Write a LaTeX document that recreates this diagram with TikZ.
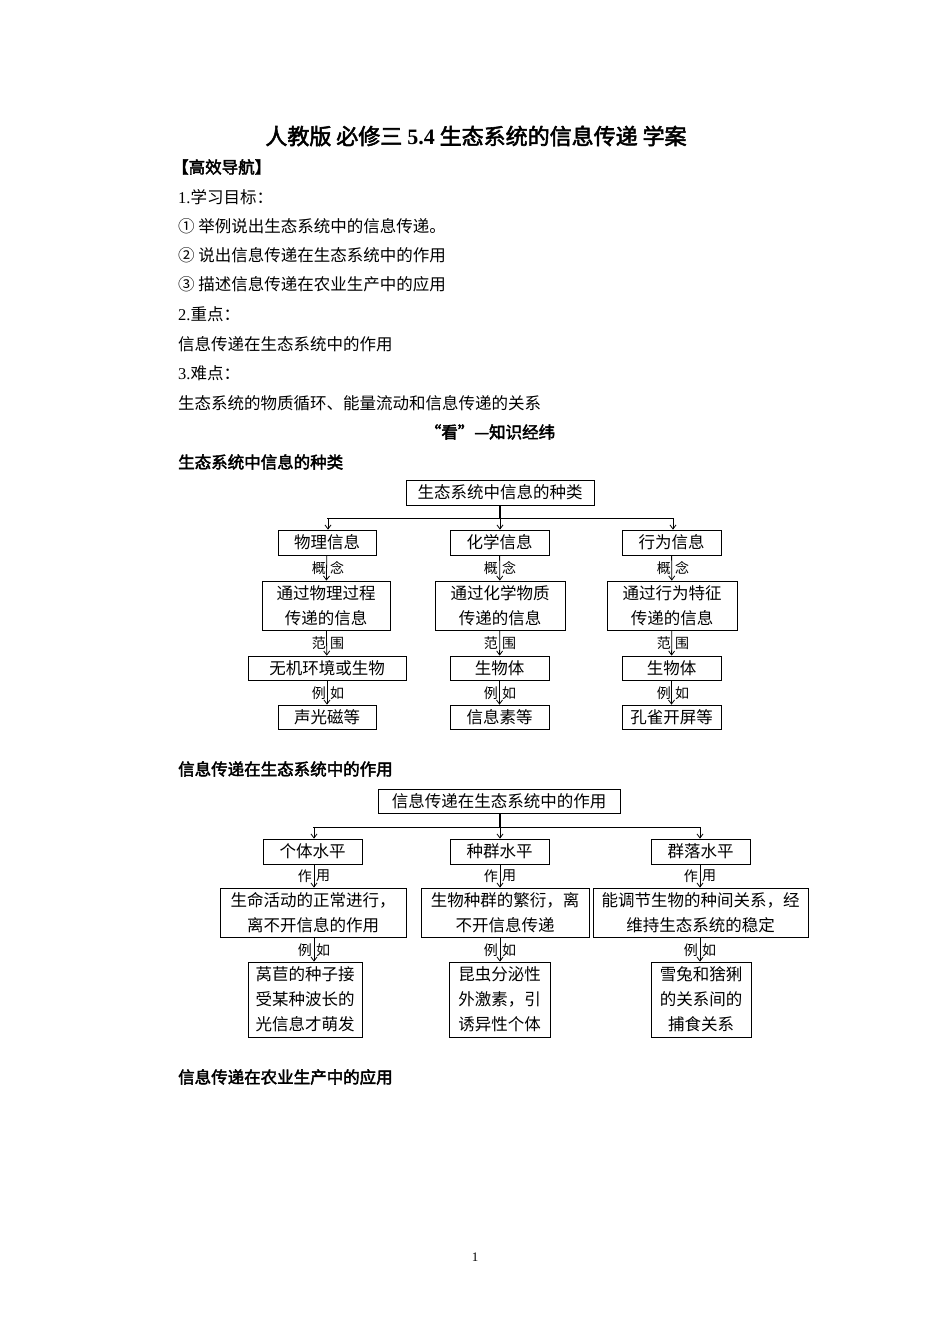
\documentclass[tikz,border=0pt]{standalone}
\usepackage{fontspec}
\setmainfont{Noto Sans CJK SC}
\newfontfamily\lat{Liberation Serif}
\newfontfamily\cjkb[FakeBold=2.5]{Noto Sans CJK SC}
\newfontfamily\latb{Liberation Serif Bold}
\usetikzlibrary{arrows.meta}
\begin{document}
\begin{tikzpicture}[x=1pt,y=-1pt,
 txt/.style={anchor=west,inner sep=0,font=\fontsize{16.5}{18}\selectfont},
 bx/.style={draw,line width=0.8pt,inner sep=0,font=\fontsize{16.5}{25}\selectfont,align=center},
 lbl/.style={inner sep=0,font=\fontsize{14}{16}\selectfont},
 arr/.style={line width=0.8pt,-{Straight Barb[length=4pt,width=6pt]}}]
\useasboundingbox (0,0) rectangle (950,1344);
\node[inner sep=0,font=\fontsize{22}{24}\selectfont] (title) at (476,136) {\cjkb 人教版 必修三 {\latb 5.4} 生态系统的信息传递 学案};
\node[txt] (h) at (172,167) {\cjkb 【高效导航】};
\node[txt] (t1) at (178,197) {{\lat 1.}学习目标：};
\node[txt] (t2) at (178,226) {① 举例说出生态系统中的信息传递。};
\node[txt] (t3) at (178,255) {② 说出信息传递在生态系统中的作用};
\node[txt] (t4) at (178,284) {③ 描述信息传递在农业生产中的应用};
\node[txt] (t5) at (178,314) {{\lat 2.}重点：};
\node[txt] (t6) at (178,344) {信息传递在生态系统中的作用};
\node[txt] (t7) at (178,373) {{\lat 3.}难点：};
\node[txt] (t8) at (178,403) {生态系统的物质循环、能量流动和信息传递的关系};
\node[inner sep=0,font=\fontsize{16.5}{18}\selectfont] (kan) at (490,432) {\cjkb “看”—知识经纬};
\node[txt] (s1) at (178,462) {\cjkb 生态系统中信息的种类};
\node[txt] (s2) at (178,769) {\cjkb 信息传递在生态系统中的作用};
\node[txt] (s3) at (178,1077) {\cjkb 信息传递在农业生产中的应用};
\node[inner sep=0,font=\lat\fontsize{13}{14}\selectfont] (pg) at (475,1257) {1};

% diagram 1
\newcommand{\bxat}[6]{\node[bx,minimum width=#4,minimum height=#5] (#1) at (#2,#3) {#6};}
\bxat{A}{500}{492.5}{188}{25}{生态系统中信息的种类}
\bxat{A1}{327}{542.5}{98}{25}{物理信息}
\bxat{A2}{499.5}{542.5}{99}{25}{化学信息}
\bxat{A3}{671.5}{542.5}{99}{25}{行为信息}
\bxat{B1}{326}{605.5}{128}{49}{通过物理过程\\传递的信息}
\bxat{B2}{500}{605.5}{130}{49}{通过化学物质\\传递的信息}
\bxat{B3}{672}{605.5}{130}{49}{通过行为特征\\传递的信息}
\bxat{C1}{327}{668}{158}{24}{无机环境或生物}
\bxat{C2}{499.5}{668}{99}{24}{生物体}
\bxat{C3}{671.5}{668}{99}{24}{生物体}
\bxat{D1}{327}{717}{98}{24}{声光磁等}
\bxat{D2}{499.5}{717}{99}{24}{信息素等}
\bxat{D3}{671.5}{717}{99}{24}{孔雀开屏等}
\coordinate (J) at (500,518);
\draw[line width=1.6pt] (A.south) -- (J);
\draw[line width=0.8pt] (327,518) -- (673,518);
\foreach \c/\n in {328/A1,500/A2,673/A3} \draw[arr] (\c,518) -- (\n.north -| \c,518);
\foreach \i in {1,2,3}{
 \draw[arr] (A\i) -- (B\i);
 \draw[arr] (B\i) -- (C\i);
 \draw[arr] (C\i) -- (D\i);
}
\foreach \c in {328,500,673}{
 \node[lbl,anchor=east] (l\c a) at (\c-2,568) {概};
 \node[lbl,anchor=west] (r\c a) at (\c+2,568) {念};
 \node[lbl,anchor=east] (l\c b) at (\c-2,643) {范};
 \node[lbl,anchor=west] (r\c b) at (\c+2,643) {围};
 \node[lbl,anchor=east] (l\c c) at (\c-2,693) {例};
 \node[lbl,anchor=west] (r\c c) at (\c+2,693) {如};
}

% diagram 2
\bxat{E}{499}{801}{242}{24}{信息传递在生态系统中的作用}
\bxat{E1}{312.5}{851.5}{99}{25}{个体水平}
\bxat{E2}{499.5}{851.5}{99}{25}{种群水平}
\bxat{E3}{700.5}{851.5}{99}{25}{群落水平}
\bxat{F1}{313}{912.5}{186}{49}{生命活动的正常进行，\\离不开信息的作用}
\bxat{F2}{505}{912.5}{168}{49}{生物种群的繁衍，离\\不开信息传递}
\bxat{F3}{700.5}{912.5}{215}{49}{能调节生物的种间关系，经\\维持生态系统的稳定}
\bxat{G1}{305}{999.5}{114}{75}{莴苣的种子接\\受某种波长的\\光信息才萌发}
\bxat{G2}{499.5}{999.5}{101}{75}{昆虫分泌性\\外激素，引\\诱异性个体}
\bxat{G3}{701}{999.5}{100}{75}{雪兔和猞猁\\的关系间的\\捕食关系}
\coordinate (K) at (500,827);
\draw[line width=1.6pt] (E.south -| K) -- (K);
\draw[line width=0.8pt] (313,827) -- (700,827);
\foreach \c/\n in {314/E1,500/E2,700/E3} \draw[arr] (\c,827) -- (\n.north -| \c,827);
\draw[arr] (E1.south -| 314,0) -- (F1.north -| 314,0);
\draw[arr] (E2.south -| 500,0) -- (F2.north -| 500,0);
\draw[arr] (E3.south -| 700,0) -- (F3.north -| 700,0);
\draw[arr] (F1.south -| 314,0) -- (G1.north -| 314,0);
\draw[arr] (F2.south -| 500,0) -- (G2.north -| 500,0);
\draw[arr] (F3.south -| 700,0) -- (G3.north -| 700,0);
\foreach \c in {314,500,700}{
 \node[lbl,anchor=east] (m\c a) at (\c-2,876) {作};
 \node[lbl,anchor=west] (n\c a) at (\c+2,876) {用};
 \node[lbl,anchor=east] (m\c b) at (\c-2,950) {例};
 \node[lbl,anchor=west] (n\c b) at (\c+2,950) {如};
}
\end{tikzpicture}
\end{document}
